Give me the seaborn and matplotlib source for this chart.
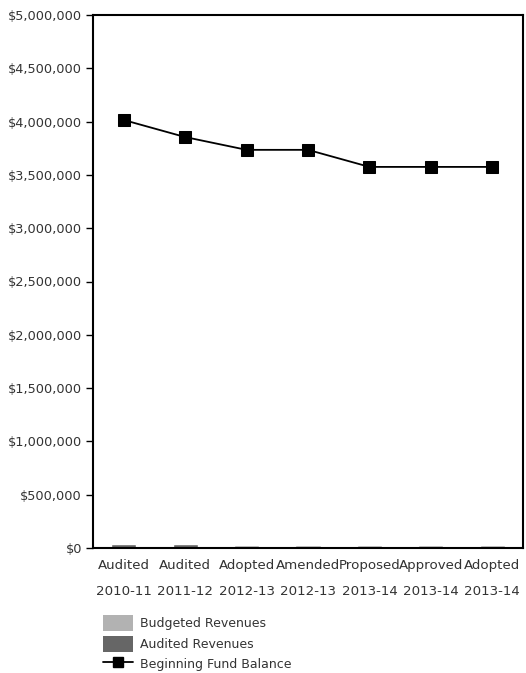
import matplotlib
matplotlib.use("Agg")
import matplotlib.pyplot as plt
from matplotlib.patches import Patch
from matplotlib.lines import Line2D
from matplotlib.ticker import FuncFormatter, MultipleLocator
import seaborn as sns
import pandas as pd

# Fiscal periods shown along the x axis
periods = ["Audited\n2010-11", "Audited\n2011-12", "Adopted\n2012-13", "Amended\n2012-13",
           "Proposed\n2013-14", "Approved\n2013-14", "Adopted\n2013-14"]

# Revenues: audited for closed years, budgeted for the rest
revenue_type = ["Audited Revenues", "Audited Revenues", "Budgeted Revenues", "Budgeted Revenues",
                "Budgeted Revenues", "Budgeted Revenues", "Budgeted Revenues"]
revenues = [38000, 38000, 28000, 28000, 28000, 28000, 28000]

# Fund balance at the start of each period
fund_balance = [4015000, 3855000, 3735000, 3735000, 3575000, 3575000, 3575000]

sns.set_theme(style="white")
plt.rcParams["font.family"] = ["DejaVu Sans"]

text_color = "#333333"
budget_color = "#b2b2b2"
audit_color = "#666666"

df = pd.DataFrame({"period": periods, "type": revenue_type, "revenue": revenues,
                   "balance": fund_balance})

fig = plt.figure(figsize=(5.26, 6.73), dpi=100)
ax = fig.add_axes([93 / 526, 1 - 548 / 673, 430 / 526, 533 / 673])

sns.barplot(data=df, x="period", y="revenue", hue="type",
            palette={"Budgeted Revenues": budget_color, "Audited Revenues": audit_color},
            dodge=False, width=0.41, ax=ax, legend=False, saturation=1, zorder=2)
sns.lineplot(data=df, x="period", y="balance", ax=ax, color="black", linewidth=1.3,
             marker="s", markersize=8, markeredgecolor="black", sort=False, zorder=4)

ax.set_ylim(0, 5000000)
ax.set_xlim(-0.5, len(periods) - 0.5)
ax.yaxis.set_major_locator(MultipleLocator(500000))
ax.yaxis.set_major_formatter(FuncFormatter(lambda v, _: f"${v:,.0f}"))
ax.set_xlabel("")
ax.set_ylabel("")

for side in ax.spines.values():
    side.set_color("black")
    side.set_linewidth(1.5)
    side.set_zorder(2.5)

ax.tick_params(axis="y", left=True, length=5, width=1, color="black",
               labelsize=9.3, labelcolor=text_color, pad=3)
ax.tick_params(axis="x", bottom=False, labelsize=9.6, labelcolor=text_color, pad=2)
for lbl in ax.get_xticklabels():
    lbl.set_linespacing(2.25)

handles = [Patch(facecolor=budget_color, edgecolor="none"),
           Patch(facecolor=audit_color, edgecolor="none"),
           Line2D([0], [0], color="black", linewidth=1.3, marker="s", markersize=7)]
labels = ["Budgeted Revenues", "Audited Revenues", "Beginning Fund Balance"]
fig.legend(handles, labels, loc="upper left", bbox_to_anchor=(103 / 526, 1 - 615 / 673),
           frameon=False, fontsize=9, labelcolor=text_color, handlelength=2.4,
           handleheight=1.6, handletextpad=0.55, labelspacing=0.36, borderpad=0,
           borderaxespad=0)

fig.savefig("out.png", dpi=100, facecolor="white")
